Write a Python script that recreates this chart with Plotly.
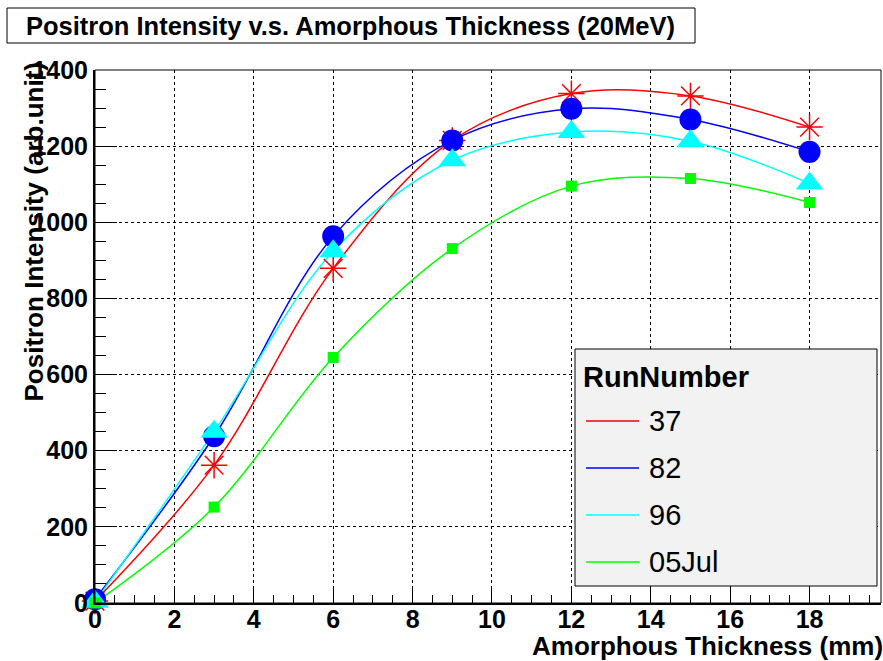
import plotly.graph_objects as go

thickness = [0, 3, 6, 9, 12, 15, 18]
run37 = [5, 362, 879, 1215, 1338, 1332, 1250]
run82 = [10, 438, 963, 1215, 1298, 1270, 1185]
run96 = [3, 450, 924, 1163, 1237, 1213, 1102]
run05jul = [0, 252, 645, 931, 1095, 1115, 1052]
series_names = ["37", "82", "96", "05Jul"]
series_vals = [run37, run82, run96, run05jul]
colors = ["#ff0000", "#0000ff", "#00ffff", "#00ff00"]
symbols = ["asterisk-open", "circle", "triangle-up", "square"]
msizes = [22, 22, 24, 11]

W, H = 883, 661
L, R, T, B = 95, 881, 70, 603
def px(xp):
    return (xp - L) / (R - L)
def py(yp):
    return (B - yp) / (B - T)

FONT = "Liberation Sans, Arial, sans-serif"
fig = go.Figure()

for name, vals, c in zip(series_names, series_vals, colors):
    fig.add_trace(go.Scatter(x=thickness, y=vals, mode="lines", name=name,
                             line=dict(color=c, width=1.5, shape="spline", smoothing=1.0),
                             showlegend=False, hoverinfo="skip"))
for name, vals, c, s, ms in zip(series_names, series_vals, colors, symbols, msizes):
    mk = dict(symbol=s, size=ms, color=c)
    if s == "asterisk-open":
        mk["line"] = dict(color=c, width=1.5)
    else:
        mk["line"] = dict(width=0)
    fig.add_trace(go.Scatter(x=thickness, y=vals, mode="markers", name=name,
                             marker=mk, showlegend=False, cliponaxis=False))

shapes = []
annotations = []
# frame
shapes.append(dict(type="rect", xref="paper", yref="paper", x0=0, x1=1, y0=0, y1=1,
                   line=dict(color="black", width=1), layer="above"))
# title box
shapes.append(dict(type="rect", xref="paper", yref="paper", x0=px(7), x1=px(695),
                   y0=py(43), y1=py(8), line=dict(color="black", width=1), fillcolor="white"))
annotations.append(dict(text="<b>Positron Intensity v.s. Amorphous Thickness (20MeV)</b>",
                        xref="paper", yref="paper", x=px(350), y=py(26),
                        xanchor="center", yanchor="middle", showarrow=False,
                        font=dict(family=FONT, size=25.5, color="black")))
# axis titles
annotations.append(dict(text="<b>Positron Intensity (arb.unit)</b>", textangle=-90,
                        xref="paper", yref="paper", x=px(33), y=py(61),
                        xanchor="center", yanchor="top", showarrow=False,
                        font=dict(family=FONT, size=26, color="black")))
annotations.append(dict(text="<b>Amorphous Thickness (mm)</b>",
                        xref="paper", yref="paper", x=1, y=py(646),
                        xanchor="right", yanchor="middle", showarrow=False, xshift=4,
                        font=dict(family=FONT, size=26, color="black")))
# legend box
shapes.append(dict(type="rect", xref="paper", yref="paper", x0=px(575), x1=px(877),
                   y0=py(586), y1=py(349), line=dict(color="black", width=1),
                   fillcolor="#f2f2f2", layer="above"))
annotations.append(dict(text="<b>RunNumber</b>", xref="paper", yref="paper",
                        x=px(581), y=py(377), xanchor="left", yanchor="middle",
                        showarrow=False, font=dict(family=FONT, size=29, color="black")))
entry_y = [421, 468, 515, 562]
for name, c, ey in zip(series_names, colors, entry_y):
    shapes.append(dict(type="line", xref="paper", yref="paper", x0=px(586), x1=px(639),
                       y0=py(ey), y1=py(ey), line=dict(color=c, width=1.5), layer="above"))
    annotations.append(dict(text=name, xref="paper", yref="paper", x=px(647), y=py(ey),
                            xanchor="left", yanchor="middle", showarrow=False,
                            font=dict(family=FONT, size=29, color="black")))

axis_common = dict(showgrid=True, gridcolor="black", griddash="dot", gridwidth=1,
                   ticks="inside", tickcolor="black", tickwidth=1,
                   showline=True, linecolor="black", linewidth=2, zeroline=False,
                   tickfont=dict(family=FONT, size=25, color="black", weight="bold"))
fig.update_layout(
    width=W, height=H, margin=dict(l=L, r=W - R, t=T, b=H - B),
    paper_bgcolor="white", plot_bgcolor="white",
    showlegend=False, shapes=shapes, annotations=annotations,
    xaxis=dict(range=[0, 19.8], tick0=0, dtick=2, ticklen=17, ticklabelstandoff=-7,
               minor=dict(dtick=0.5, ticks="inside", ticklen=8, tickcolor="black", showgrid=False),
               **axis_common),
    yaxis=dict(range=[0, 1400], tick0=0, dtick=200, ticklen=22,
               minor=dict(dtick=50, ticks="inside", ticklen=11, tickcolor="black", showgrid=False),
               **axis_common),
)
fig.write_html("out.html")
